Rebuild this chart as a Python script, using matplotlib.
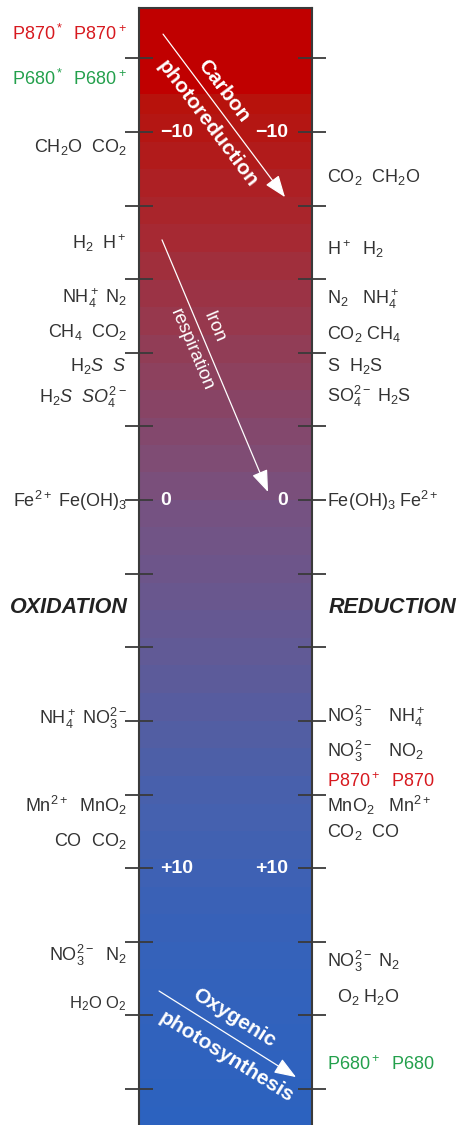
import numpy as np
import matplotlib
matplotlib.use("Agg")
import matplotlib.pyplot as plt
from matplotlib.colors import LinearSegmentedColormap

plt.rcParams['font.family'] = ['Liberation Sans', 'DejaVu Sans']
plt.rcParams['mathtext.fontset'] = 'custom'
plt.rcParams['mathtext.rm'] = 'Liberation Sans'
plt.rcParams['mathtext.it'] = 'Liberation Sans:italic'
plt.rcParams['mathtext.bf'] = 'Liberation Sans:bold'

# potential scale (top of bar is most negative)
E_TOP = -13.37
E_BOTTOM = 16.98
tick_values = list(range(-12, 17, 2))
inner_labels = {-10: "\u221210", 0: "0", 10: "+10"}

# colour stops of the bar (potential, rgb)
stop_values = [-13.4, -11.05, -10.9, -7.5, -4.0, 0.0, 4.0, 8.0, 12.0, 17.0]
stop_colors = [(192, 0, 0), (192, 0, 0), (184, 18, 12), (168, 40, 48), (145, 62, 88),
               (120, 82, 128), (98, 90, 150), (72, 97, 173), (54, 98, 186), (44, 98, 192)]

# electron donor couples (left) and acceptor couples (right)
left_labels = [r"P870$^*$  P870$^+$", r"P680$^*$  P680$^+$", r"CH$_2$O  CO$_2$", r"H$_2$  H$^+$",
               r"NH$_4^+$ N$_2$", r"CH$_4$  CO$_2$", r"H$_2$$\mathit{S}$  $\mathit{S}$",
               r"H$_2$$\mathit{S}$  $\mathit{SO}_4^{2-}$", r"Fe$^{2+}$ Fe(OH)$_3$",
               r"NH$_4^+$ NO$_3^{2-}$", r"Mn$^{2+}$  MnO$_2$", r"CO  CO$_2$",
               r"NO$_3^{2-}$  N$_2$", r"H$_2$O O$_2$"]
left_values = [-12.69, -11.47, -9.65, -7.01, -5.54, -4.62, -3.70, -2.83, 0.0,
               5.90, 8.29, 9.21, 12.34, 13.61]
left_colors = ['red', 'green'] + ['dark'] * 12

right_labels = [r"CO$_2$  CH$_2$O", r"H$^+$  H$_2$", r"N$_2$   NH$_4^+$", r"CO$_2$ CH$_4$",
                r"S  H$_2$S", r"SO$_4^{2-}$ H$_2$S", r"Fe(OH)$_3$ Fe$^{2+}$",
                r"NO$_3^{2-}$   NH$_4^+$", r"NO$_3^{2-}$   NO$_2$", r"P870$^+$  P870",
                r"MnO$_2$   Mn$^{2+}$", r"CO$_2$  CO", r"NO$_3^{2-}$ N$_2$", r"O$_2$ H$_2$O",
                r"P680$^+$  P680"]
right_values = [-8.83, -6.85, -5.52, -4.57, -3.70, -2.85, 0.0, 5.84, 6.79, 7.61,
                8.29, 8.97, 12.50, 13.45, 15.30]
right_colors = ['dark'] * 9 + ['red'] + ['dark'] * 4 + ['green']

# process arrows: start/end potential and text potentials
arrow_names = [("Carbon", "photoreduction"), ("Iron", "respiration"), ("Oxygenic", "photosynthesis")]
arrow_start = [-12.66, -7.07, 13.34]
arrow_end = [-8.23, -0.22, 15.68]
arrow_text_e = [(-11.11, -10.22), (-4.70, -4.08), (14.08, 15.14)]

text_colors = {'dark': '#333333', 'red': '#d7191f', 'green': '#23a04c'}

fig = plt.figure(figsize=(4.66, 11.25), dpi=100)
ax = fig.add_axes([139 / 466, 0, 173 / 466, 1117 / 1125])
ax.set_xlim(0, 1)
ax.set_ylim(E_BOTTOM, E_TOP)

# banded gradient
cmap = LinearSegmentedColormap.from_list(
    'redox', [((v - stop_values[0]) / (stop_values[-1] - stop_values[0]), np.array(c) / 255)
              for v, c in zip(stop_values, stop_colors)])
e_grid = np.linspace(E_TOP, E_BOTTOM, 1200)
band = np.where(e_grid < -11.05, e_grid, np.floor(e_grid / 0.75) * 0.75 + 0.375)
img = cmap((band - stop_values[0]) / (stop_values[-1] - stop_values[0]))[:, None, :]
ax.imshow(img, extent=[0, 1, E_BOTTOM, E_TOP], aspect='auto', interpolation='nearest', zorder=0)

for side in ['left', 'right', 'top']:
    ax.spines[side].set_color('#3a3a3a')
    ax.spines[side].set_linewidth(1.5)
ax.spines['bottom'].set_visible(False)
ax.set_xticks([])
ax.set_yticks(tick_values)
ax.tick_params(axis='y', direction='inout', length=20, width=1.3, color='#3a3a3a',
               left=True, right=True, labelleft=False, labelright=False)

for v, s in inner_labels.items():
    ax.text(0.121, v, s, color='white', fontsize=14, fontweight='bold', ha='left', va='center')
    ax.text(0.862, v, s, color='white', fontsize=14, fontweight='bold', ha='right', va='center')

off = 0.19
for lab, v, c in zip(left_labels, left_values, left_colors):
    fs = 12 if lab.startswith(r"H$_2$O") else 13
    ax.text(-0.07, v + off, lab, color=text_colors[c], fontsize=fs, ha='right', va='baseline',
            clip_on=False)
for lab, v, c in zip(right_labels, right_values, right_colors):
    x = 1.145 if lab.startswith(r"O$_2$") else 1.087
    ax.text(x, v + off, lab, color=text_colors[c], fontsize=13, ha='left', va='baseline',
            clip_on=False)

ax.text(-0.062, 2.93, "OXIDATION", fontsize=15.5, fontweight='bold', style='italic',
        color='#222222', ha='right', va='center', clip_on=False)
ax.text(1.097, 2.93, "REDUCTION", fontsize=15.5, fontweight='bold', style='italic',
        color='#222222', ha='left', va='center', clip_on=False)

# arrows with their labels
arrow_x = [(0.139, 0.844), (0.133, 0.746), (0.116, 0.908)]
text_x = [(0.486, 0.393), (0.434, 0.306), (0.549, 0.503)]
rotations = [-53, -67, -32]
weights = ['bold', 'normal', 'bold']
sizes = [15, 13.5, 15]
for i in range(3):
    ax.annotate('', xy=(arrow_x[i][1], arrow_end[i]), xytext=(arrow_x[i][0], arrow_start[i]),
                arrowprops=dict(arrowstyle='-|>,head_length=0.75,head_width=0.28',
                                color='white', lw=0.9, mutation_scale=18,
                                shrinkA=0, shrinkB=0))
    for j in range(2):
        ax.text(text_x[i][j], arrow_text_e[i][j], arrow_names[i][j], color='white',
                fontsize=sizes[i], fontweight=weights[i], rotation=rotations[i],
                rotation_mode='anchor', ha='center', va='center')

fig.savefig("out.png", dpi=100)
